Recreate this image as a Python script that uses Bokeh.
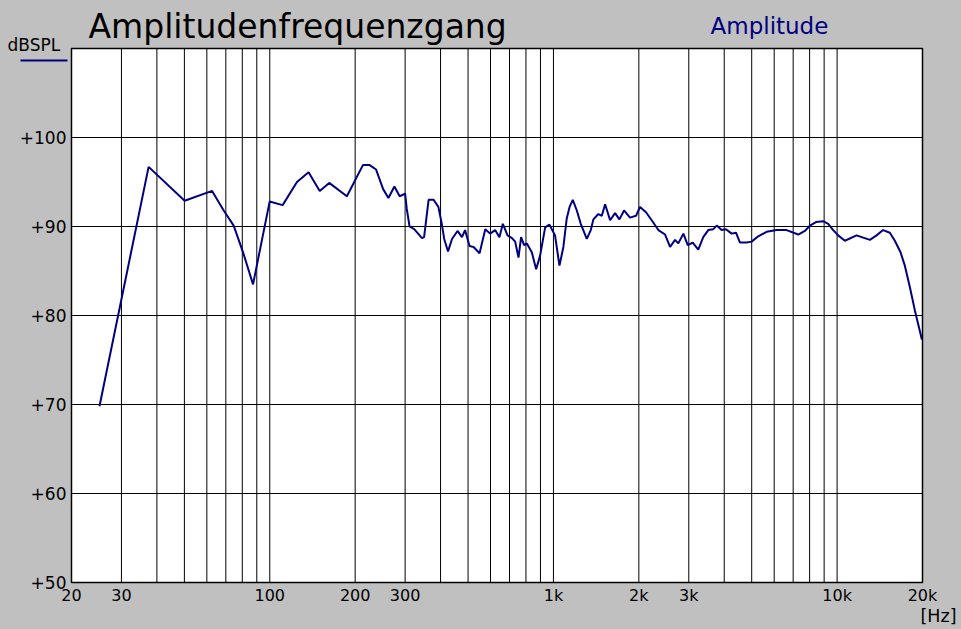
from bokeh.plotting import figure
from bokeh.models import FixedTicker, Label, Arrow, Range1d
from bokeh.embed import file_html
from bokeh.resources import INLINE

# ---- data ----
freq_hz = [25.1, 37.4, 50.1, 62.6, 68.8, 74.6, 80.5, 87.3, 99.9, 111, 124.7, 137, 150, 162, 187,
           213, 225, 237, 251, 262, 275, 287, 300, 304, 311, 323, 344, 350, 363, 378, 393, 404,
           412, 425, 439, 459, 476, 488, 506, 523, 549, 575, 598, 623, 645, 663, 689, 714, 733,
           753, 769, 788, 806, 839, 869, 897, 935, 968, 1013, 1050, 1084, 1114, 1140, 1170, 1209,
           1248, 1311, 1354, 1383, 1440, 1481, 1521, 1584, 1649, 1708, 1774, 1862, 1955, 2019,
           2120, 2220, 2344, 2475, 2577, 2683, 2756, 2871, 2975, 3097, 3240, 3374, 3514, 3660,
           3764, 3918, 4058, 4249, 4400, 4546, 4798, 4996, 5272, 5643, 6120, 6637, 7295, 7697,
           8019, 8421, 8931, 9303, 9686, 10086, 10652, 11710, 13046, 13774, 14530, 15342, 15978,
           16734, 17330, 18046, 18792, 19900]
spl_db = [69.8, 96.7, 92.9, 94.0, 91.8, 90.1, 87.1, 83.5, 92.8, 92.4, 95.0, 96.1, 94.0, 94.9, 93.4,
          96.9, 96.9, 96.4, 94.2, 93.2, 94.5, 93.4, 93.7, 92.0, 90.0, 89.7, 88.7, 88.8, 93.0, 93.0,
          92.2, 90.3, 88.6, 87.2, 88.6, 89.5, 88.8, 89.6, 87.8, 87.7, 87.0, 89.7, 89.2, 89.6, 88.8,
          90.3, 89.0, 88.7, 88.3, 86.5, 88.8, 87.9, 88.1, 87.1, 85.2, 86.7, 89.9, 90.2, 89.0, 85.6,
          87.7, 90.9, 92.2, 93.0, 91.8, 90.3, 88.6, 89.6, 90.8, 91.4, 91.2, 92.5, 90.7, 91.5, 90.8,
          91.8, 91.0, 91.2, 92.2, 91.6, 90.7, 89.6, 89.1, 87.7, 88.5, 88.1, 89.2, 87.9, 88.2, 87.4,
          88.8, 89.6, 89.7, 90.1, 89.6, 89.7, 89.2, 89.3, 88.2, 88.2, 88.3, 88.9, 89.4, 89.6, 89.6,
          89.1, 89.5, 90.1, 90.5, 90.6, 90.3, 89.6, 89.0, 88.4, 89.0, 88.5, 89.0, 89.6, 89.3, 88.4,
          87.1, 85.6, 83.2, 80.6, 77.3]

x_ticks = [20, 30, 100, 200, 300, 1000, 2000, 3000, 10000, 20000]
x_tick_labels = ["20", "30", "100", "200", "300", "1k", "2k", "3k", "10k", "20k"]
y_ticks = [50, 60, 70, 80, 90, 100]
y_tick_labels = ["+50", "+60", "+70", "+80", "+90", "+100"]
y_max = 110
grid_freqs = [20, 30, 40, 50, 60, 70, 80, 90,
              100, 200, 300, 400, 500, 600, 700, 800, 900,
              1000, 2000, 3000, 4000, 5000, 6000, 7000, 8000, 9000,
              10000, 20000]

title_text = "Amplitudenfrequenzgang"
series_name = "Amplitude"
y_unit = "dBSPL"
x_unit = "[Hz]"

FONT = "DejaVu Sans"
GRAY = "#c0c0c0"
NAVY = "#000080"

# ---- layout (pixels) ----
W, H = 961, 629
PL, PR, PT, PB = 71, 922, 48, 582          # white plot area inside the canvas
x_lo, x_hi = x_ticks[0], x_ticks[-1]
y_lo, y_hi = y_ticks[0], y_max
px_per_dec = (PR - PL) / 3.0
px_per_db = (PB - PT) / (y_hi - y_lo)
xr = Range1d(x_lo * 10 ** (-PL / px_per_dec), x_hi * 10 ** ((W - PR) / px_per_dec))
yr = Range1d(y_lo - (H - PB) / px_per_db, y_hi + PT / px_per_db)

p = figure(frame_width=W, frame_height=H,
           min_border_left=0, min_border_right=0, min_border_top=0, min_border_bottom=0,
           x_axis_type="log", x_range=xr, y_range=yr,
           output_backend="svg", toolbar_location=None)

p.background_fill_color = GRAY
p.border_fill_color = GRAY
p.outline_line_color = None
p.xgrid.visible = False
p.ygrid.visible = False

# axes fixed at the edges of the plot area
p.xaxis.fixed_location = y_lo
p.yaxis.fixed_location = x_lo
for ax in (p.xaxis, p.yaxis):
    ax.axis_line_color = None
    ax.major_tick_line_color = None
    ax.minor_tick_line_color = None
    ax.major_label_text_font = FONT
    ax.major_label_text_color = "black"
p.xaxis.major_label_standoff = -3
p.yaxis.major_label_standoff = -1

p.xaxis.ticker = FixedTicker(ticks=x_ticks)
p.xaxis.major_label_overrides = {t: s for t, s in zip(x_ticks, x_tick_labels)}
p.xaxis.major_label_text_font_size = "16px"
p.yaxis.ticker = FixedTicker(ticks=y_ticks)
p.yaxis.major_label_overrides = {t: s for t, s in zip(y_ticks, y_tick_labels)}
p.yaxis.major_label_text_font_size = "17px"

# white plot area
p.quad(left=[x_lo], right=[x_hi], bottom=[y_lo], top=[y_hi],
       fill_color="white", line_color=None)

# grid lines
p.segment(x0=grid_freqs, y0=[y_lo] * len(grid_freqs), x1=grid_freqs, y1=[y_hi] * len(grid_freqs),
          line_color="black", line_width=1)
h_lines = y_ticks[1:]
p.segment(x0=[x_lo] * len(h_lines), y0=h_lines, x1=[x_hi] * len(h_lines), y1=h_lines,
          line_color="black", line_width=1)

# the curve
p.line(freq_hz, spl_db, line_color=NAVY, line_width=2)

# frame
p.quad(left=[x_lo], right=[x_hi], bottom=[y_lo], top=[y_hi],
       fill_color=None, line_color="black", line_width=1.5)


def add_text(txt, x, baseline, size, color="black", align="left"):
    # screen units from the canvas' bottom-left; small correction for Bokeh's baseline box
    p.add_layout(Label(x=x, y=H - baseline + 0.33 * size, x_units="screen", y_units="screen",
                       text=txt, text_font=FONT, text_font_size=f"{size}px",
                       text_color=color, text_baseline="alphabetic", text_align=align))


add_text(title_text, 88, 37, 33)
add_text(series_name, 710, 33, 23, color=NAVY)
add_text(y_unit, 7, 50, 17)
add_text(x_unit, 956, 621, 17.5, align="right")
p.add_layout(Arrow(end=None, x_start=20, y_start=H - 60, x_end=67, y_end=H - 60,
                   start_units="screen", end_units="screen", line_color=NAVY, line_width=2))

html = file_html(p, INLINE)
html = html.replace("<head>", "<head><style>html,body{background:#c0c0c0;}</style>", 1)
open("out.html", "w").write(html)
